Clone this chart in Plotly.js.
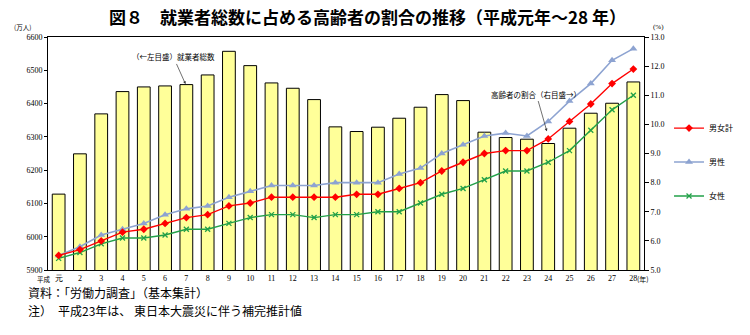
<!DOCTYPE html>
<html>
<head>
<meta charset="utf-8">
<script src="https://cdn.plot.ly/plotly-3.0.1.min.js"></script>
<style>html,body{margin:0;padding:0;background:#fff;}</style>
</head>
<body>
<div id="chart" style="width:750px;height:335px;"></div>
<script>
const years = ['元','2','3','4','5','6','7','8','9','10','11','12','13','14','15','16','17','18','19','20','21','22','23','24','25','26','27','28'];
const employed = [6128, 6249, 6369, 6436, 6450, 6453, 6457, 6486, 6557, 6514, 6462, 6446, 6412, 6330, 6316, 6329, 6356, 6389, 6427, 6409, 6314, 6298, 6293, 6280, 6326, 6371, 6401, 6465];
const shareTotal = [5.5, 5.7, 6.0, 6.3, 6.4, 6.6, 6.8, 6.9, 7.2, 7.3, 7.5, 7.5, 7.5, 7.5, 7.6, 7.6, 7.8, 8.0, 8.4, 8.7, 9.0, 9.1, 9.1, 9.5, 10.1, 10.7, 11.4, 11.9];
const shareMale = [5.5, 5.8, 6.2, 6.4, 6.6, 6.9, 7.1, 7.2, 7.5, 7.7, 7.9, 7.9, 7.9, 8.0, 8.0, 8.0, 8.3, 8.5, 9.0, 9.3, 9.6, 9.7, 9.6, 10.1, 10.8, 11.4, 12.2, 12.6];
const shareFemale = [5.4, 5.6, 5.9, 6.1, 6.1, 6.2, 6.4, 6.4, 6.6, 6.8, 6.9, 6.9, 6.8, 6.9, 6.9, 7.0, 7.0, 7.3, 7.6, 7.8, 8.1, 8.4, 8.4, 8.7, 9.1, 9.8, 10.5, 11.0];
const seriesNames = ['男女計', '男性', '女性'];

const JP = '"Noto Sans CJK JP", "Noto Sans", sans-serif';
const SERIF = '"Liberation Serif", "DejaVu Serif", serif';
const last = years.length - 1;

const traces = [
  {type:'bar', x:years, y:employed, yaxis:'y', showlegend:false, hoverinfo:'skip',
   marker:{color:'#FFFF99', line:{color:'#000000', width:1}}},
  {type:'scatter', mode:'lines+markers', name:seriesNames[1], legend:'legend2', x:years, y:shareMale, yaxis:'y2',
   line:{color:'#8DA3D1', width:1.6}, marker:{symbol:'triangle-up', size:7, color:'#8DA3D1'}},
  {type:'scatter', mode:'lines+markers', name:seriesNames[2], legend:'legend3', x:years, y:shareFemale, yaxis:'y2',
   line:{color:'#22A048', width:1.4}, marker:{symbol:'x-thin', size:5, line:{color:'#22A048', width:1.3}}},
  {type:'scatter', mode:'lines+markers', name:seriesNames[0], legend:'legend', x:years, y:shareTotal, yaxis:'y2',
   line:{color:'#FF0000', width:1.4}, marker:{symbol:'diamond', size:6, color:'#FF0000'}}
];

const smallFont = {family: SERIF, size: 8, color:'#000'};
const annFont = {family: JP, size: 7.5, color:'#000'};
const legFont = {family: JP, size: 8, color:'#000'};
const legBase = {x:1.042, xanchor:'left', yanchor:'middle', font:legFont, bgcolor:'rgba(0,0,0,0)'};

const layout = {
  width:750, height:335,
  margin:{l:48, r:89, t:37, b:65},
  paper_bgcolor:'#ffffff', plot_bgcolor:'#ffffff',
  bargap:0.4,
  title:{text:'<b>図８　就業者総数に占める高齢者の割合の推移（平成元年～28 年）</b>',
         font:{family:JP, size:17, color:'#000'}, x:0.49, xanchor:'center', y:0.946, yanchor:'middle', yref:'container'},
  xaxis:{type:'category', categoryorder:'array', categoryarray:years, range:[-0.5, 27.5],
         showline:true, linecolor:'#000', linewidth:1, mirror:true, ticks:'', showgrid:false,
         tickfont:smallFont, fixedrange:true},
  yaxis:{range:[5900, 6600], dtick:100, showline:true, linecolor:'#000', linewidth:1,
         ticks:'outside', ticklen:3, tickcolor:'#000', showgrid:false, zeroline:false, tickfont:smallFont},
  yaxis2:{range:[5, 13], dtick:1, tickformat:'.1f', overlaying:'y', side:'right',
          showline:true, linecolor:'#000', linewidth:1, ticks:'outside', ticklen:4, tickcolor:'#000',
          showgrid:false, zeroline:false, tickfont:smallFont},
  legend:Object.assign({}, legBase, {y:0.609}),
  legend2:Object.assign({}, legBase, {y:0.4635}),
  legend3:Object.assign({}, legBase, {y:0.3176}),
  showlegend:true,
  annotations:[
    {xref:'paper', yref:'paper', x:-0.042, y:1.042, text:'(万人)', showarrow:false, font:{family:JP, size:6.5, color:'#000'}, xanchor:'center', yanchor:'middle'},
    {xref:'paper', yref:'paper', x:1.011, y:1.042, text:'(%)', showarrow:false, font:{family:SERIF, size:7, color:'#000'}, xanchor:'left', yanchor:'middle'},
    {xref:'paper', yref:'paper', x:-0.0065, y:-0.040, text:'平成', showarrow:false, font:{family:JP, size:6.5, color:'#000'}, xanchor:'center', yanchor:'middle'},
    {xref:'paper', yref:'paper', x:0.9855, y:-0.037, text:'(年)', showarrow:false, font:{family:JP, size:7, color:'#000'}, xanchor:'left', yanchor:'middle'},
    {xref:'x', yref:'y', x:years[5], y:employed[5], text:'（←左目盛）就業者総数', showarrow:true,
     ax:-13, ay:-29, arrowhead:2, arrowsize:0.8, arrowwidth:0.7, arrowcolor:'#333', standoff:2, font:annFont},
    {xref:'x', yref:'y2', x:years[22], y:shareMale[22], text:'高齢者の割合（右目盛→）', showarrow:true,
     ax:-12, ay:-42, arrowhead:2, arrowsize:0.8, arrowwidth:0.7, arrowcolor:'#333', standoff:5, font:annFont},
    {xref:'x', yref:'y2', x:years[last], y:shareMale[last], text:shareMale[last].toFixed(1), showarrow:false,
     xanchor:'right', yanchor:'middle', xshift:-6, yshift:4, font:smallFont},
    {xref:'x', yref:'y2', x:years[last], y:shareTotal[last], text:shareTotal[last].toFixed(1), showarrow:false,
     xanchor:'right', yanchor:'middle', xshift:-6, yshift:3, font:smallFont},
    {xref:'x', yref:'y2', x:years[last], y:shareFemale[last], text:shareFemale[last].toFixed(1), showarrow:false,
     xanchor:'right', yanchor:'middle', xshift:-6, yshift:4, font:smallFont},
    {xref:'paper', yref:'paper', x:-0.037, y:-0.097, text:'資料：「労働力調査」（基本集計）', showarrow:false,
     xanchor:'left', yanchor:'middle', font:{family:JP, size:12, color:'#000'}},
    {xref:'paper', yref:'paper', x:-0.037, y:-0.175, text:'注）　平成23年は、 東日本大震災に伴う補完推計値', showarrow:false,
     xanchor:'left', yanchor:'middle', font:{family:JP, size:12, color:'#000'}}
  ]
};

Plotly.newPlot('chart', traces, layout, {displayModeBar:false, staticPlot:true});
</script>
</body>
</html>
